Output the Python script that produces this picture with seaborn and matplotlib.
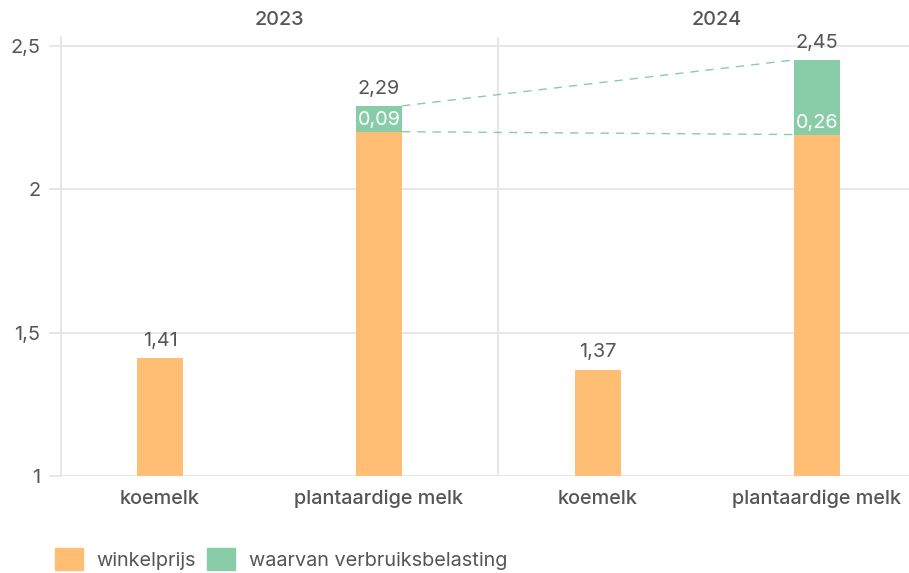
#importing
import numpy as np
import pandas as pd
import matplotlib
matplotlib.use("Agg")
import matplotlib.pyplot as plt
from matplotlib.patches import Patch
from matplotlib.ticker import FuncFormatter
import seaborn as sns

#data
keys = ["k23", "p23", "k24", "p24"]
labels = ["koemelk", "plantaardige melk", "koemelk", "plantaardige melk"]
years = ["2023", "2024"]
winkelprijs = [1.41, 2.20, 1.37, 2.19]
belasting = [0.0, 0.09, 0.0, 0.26]
totaal = [1.41, 2.29, 1.37, 2.45]

df = pd.DataFrame({"key": keys, "basis": winkelprijs, "belasting": belasting, "totaal": totaal})

#style
sns.set_theme(style="white")
plt.rcParams["font.family"] = ["Inter", "DejaVu Sans"]
orange = "#FFBE73"
green = "#88CDA8"
txt = "#555555"
grid = "#E3E3E3"
fs = 14.3

fig = plt.figure(figsize=(9.09, 5.73), dpi=100)
ax = fig.add_axes([61/909, 1-476/573, 1-61/909, (476-37)/573])

w = 0.21
sns.barplot(data=df, x="key", y="totaal", order=keys, color=green, width=w,
            saturation=1, linewidth=0, ax=ax, zorder=3)
sns.barplot(data=df, x="key", y="basis", order=keys, color=orange, width=w,
            saturation=1, linewidth=0, ax=ax, zorder=4)

ax.set_ylim(1, 2.53)
ax.set_xlim(-0.452, 3.42)
ax.set_yticks([1, 1.5, 2, 2.5])
ax.yaxis.set_major_formatter(FuncFormatter(lambda v, p: f"{v:g}".replace(".", ",")))
ax.set_xticks(range(len(labels)))
ax.set_xticklabels(labels, fontsize=fs, color=txt, fontweight="medium")
ax.set_xlabel("")
ax.set_ylabel("")
ax.grid(axis="y", color=grid, linewidth=1.2, zorder=0)
ax.set_axisbelow(True)
for s in ["top", "right", "bottom"]:
    ax.spines[s].set_visible(False)
ax.spines["left"].set_color(grid)
ax.spines["left"].set_linewidth(1.2)
ax.tick_params(axis="y", length=9, width=1.2, color=grid, labelsize=fs,
               labelcolor=txt, pad=6, left=True)
ax.tick_params(axis="x", length=0, pad=10)

#divider between years
div = 1.543
ax.axvline(div, color=grid, linewidth=1.2, zorder=1)
trans = ax.get_xaxis_transform()
mids = [(-0.452 + div) / 2, (div + div + (div + 0.452)) / 2]
for m, yr in zip(mids, years):
    ax.text(m, 1.0 + (37 - 20) / (476 - 37), yr, transform=trans, ha="center", va="center",
            fontsize=fs, color=txt, fontweight="medium")

#labels
fmt = lambda v: f"{v:.2f}".replace(".", ",")
for i, row in df.iterrows():
    ax.annotate(fmt(row["totaal"]), (i, row["totaal"]), xytext=(0, 12.5),
                textcoords="offset points", ha="center", va="center",
                fontsize=fs, color=txt)
    if row["belasting"] > 0:
        ax.annotate(fmt(row["belasting"]), (i, row["basis"]), xytext=(0, 8.6),
                    textcoords="offset points", ha="center", va="center",
                    fontsize=fs, color="white", zorder=6)

#dashed connectors
pi = [i for i, b in enumerate(belasting) if b > 0]
a, b = pi[0], pi[1]
ax.plot([a + w/2, b - w/2], [totaal[a], totaal[b]], color=green, lw=1,
        dashes=(6, 5), zorder=2)
ax.plot([a + w/2, b - w/2], [winkelprijs[a], winkelprijs[b]], color=green, lw=1,
        dashes=(6, 5), zorder=2)

#legend
handles = [Patch(color=orange, label="winkelprijs"),
           Patch(color=green, label="waarvan verbruiksbelasting")]
fig.legend(handles=handles, loc="center left", bbox_to_anchor=(55/909, 1-559/573),
           ncol=2, frameon=False, fontsize=fs, labelcolor=txt, handlelength=1.4,
           handleheight=1.4, handletextpad=0.7, columnspacing=0.55,
           borderpad=0, borderaxespad=0)

plt.savefig("out.png", dpi=100)
